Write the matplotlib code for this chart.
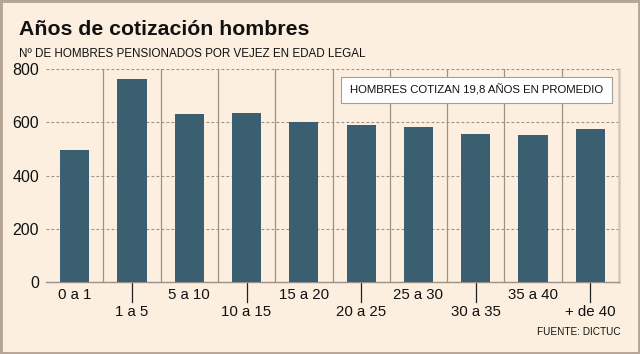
import matplotlib
matplotlib.use("Agg")
import matplotlib.pyplot as plt
from matplotlib.patches import Rectangle

categories = ["0 a 1", "1 a 5", "5 a 10", "10 a 15", "15 a 20", "20 a 25",
              "25 a 30", "30 a 35", "35 a 40", "+ de 40"]
values = [496, 762, 630, 634, 600, 590, 583, 555, 552, 575]
yticks = [0, 200, 400, 600, 800]

BG = "#fcefdf"
BAR = "#3a5f70"
GRID = "#9a918a"
FONT = ["Liberation Sans", "DejaVu Sans"]

W, H = 640, 354
fig = plt.figure(figsize=(6.4, 3.54), dpi=100, facecolor=BG)
ax = fig.add_axes([46/W, 1-282/H, (619-46)/W, (282-69)/H])
ax.set_facecolor(BG)

x = list(range(len(categories)))
ax.bar(x, values, width=0.51, color=BAR, zorder=3)
ax.set_xlim(-0.5, len(categories)-0.5)
ax.set_ylim(0, 800)

for y in yticks[1:]:
    ax.axhline(y, color=GRID, lw=0.8, ls=(0, (2.5, 2)), zorder=1)
for i in range(1, len(categories)):
    ax.axvline(i-0.5, color=GRID, lw=0.9, zorder=2)

for s in ["top", "left"]:
    ax.spines[s].set_visible(False)
ax.spines["right"].set_color("#d6c8bb")
ax.spines["right"].set_linewidth(1.8)
ax.spines["bottom"].set_color(GRID)
ax.spines["bottom"].set_linewidth(1.0)

ax.set_yticks(yticks)
ax.set_yticklabels([str(v) for v in yticks], fontsize=11.5, family=FONT, color="#111111")
ax.tick_params(axis="y", length=0, pad=5)
ax.set_xticks([])

px = 800/213
for i, c in enumerate(categories):
    if i % 2 == 0:
        ax.text(i, -13*px, c, ha="center", va="center", fontsize=10.8,
                family=FONT, color="#111111", clip_on=False)
    else:
        ax.plot([i, i], [0, -20*px], color="#222222", lw=0.9, clip_on=False)
        ax.text(i, -30.5*px, c, ha="center", va="center", fontsize=10.8,
                family=FONT, color="#111111", clip_on=False)

fig.patches.append(Rectangle((341/W, 1-102.5/H), (612-341)/W, 26/H, transform=fig.transFigure,
                             fc="white", ec="#a8a098", lw=0.8, zorder=5))
fig.text(476.5/W, 1-89.5/H, "HOMBRES COTIZAN 19,8 AÑOS EN PROMEDIO",
         ha="center", va="center", fontsize=8.2, family=FONT, color="#111111", zorder=6)

fig.text(19/W, 1-35/H, "Años de cotización hombres", fontsize=15.3, fontweight="bold",
         family=FONT, va="baseline", ha="left", color="#111111")
fig.text(19/W, 1-57.3/H, "Nº DE HOMBRES PENSIONADOS POR VEJEZ EN EDAD LEGAL", fontsize=8.4,
         family=FONT, va="baseline", ha="left", color="#111111")
fig.text(621/W, 1-332/H, "FUENTE: DICTUC", fontsize=7.2,
         family=FONT, va="center", ha="right", color="#111111")

fig.patches.append(Rectangle((0, 0), 1, 1, transform=fig.transFigure, fill=False,
                             ec="#b6a596", lw=3.5, zorder=10))

fig.savefig("out.png", dpi=100, facecolor=BG)
